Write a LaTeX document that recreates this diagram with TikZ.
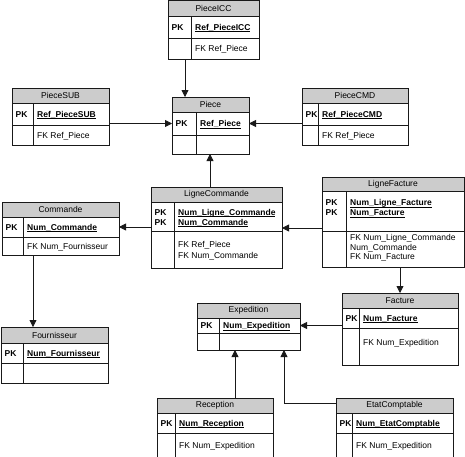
\documentclass[tikz,border=0pt]{standalone}
\usepackage{fontspec}
\setmainfont{Liberation Sans}
\usetikzlibrary{arrows.meta}
\definecolor{hdrgray}{RGB}{204,204,204}
\definecolor{linec}{RGB}{25,25,25}
\newcommand\ulbf[1]{\setbox0\hbox{\bfseries #1}\rlap{\rule[-1.6pt]{\wd0}{0.6pt}}\box0}
% name, x1, x2, divider, top, header bottom, pk bottom, bottom, title
\newcommand\ent[9]{%
  \node[inner sep=0pt, outer sep=0pt, minimum width={(#3-#2)*1pt}, minimum height={(#8-#5)*1pt}, anchor=north west] (#1) at (#2,#5) {};
  \node[hdr, minimum width={(#3-#2)*1pt}, minimum height={(#6-#5)*1pt}, anchor=north west] (#1-h) at (#2,#5) {#9};
  \node[cell, minimum width={(#4-#2)*1pt}, minimum height={(#7-#6)*1pt}, anchor=north west] (#1-pkl) at (#2,#6) {};
  \node[cell, minimum width={(#3-#4)*1pt}, minimum height={(#7-#6)*1pt}, anchor=north west] (#1-pk) at (#4,#6) {};
  \node[cell, minimum width={(#4-#2)*1pt}, minimum height={(#8-#7)*1pt}, anchor=north west] (#1-fkl) at (#2,#7) {};
  \node[cell, minimum width={(#3-#4)*1pt}, minimum height={(#8-#7)*1pt}, anchor=north west] (#1-fk) at (#4,#7) {};
}
\newcommand\pkrow[2]{%
  \node[txt, anchor=base west] (#1-pkt) at ([xshift=3.5pt,yshift=-3pt]#1-pkl.west) {\bfseries PK};
  \node[txt, anchor=base west] (#1-pka) at ([xshift=4pt,yshift=-3pt]#1-pk.west) {\ulbf{#2}};
}
\newcommand\fkrow[2]{%
  \node[txt, anchor=base west] (#1-fka) at ([xshift=4pt,yshift=-3pt]#1-fk.west) {#2};
}
\begin{document}
\begin{tikzpicture}[x=1pt,y=-1pt,
  box/.style={draw=linec, line width=0.8pt, inner sep=0pt, outer sep=0pt},
  hdr/.style={box, fill=hdrgray, font=\fontsize{8.5}{9.7}\selectfont},
  cell/.style={box, fill=white},
  txt/.style={inner sep=0pt, font=\fontsize{8.5}{9.7}\selectfont},
  conn/.style={draw=linec, line width=0.8pt, -{Triangle[length=7pt,width=7pt]}}]
\useasboundingbox (0,0) rectangle (465,456);

\ent{PieceICC}{168}{259}{191}{0.5}{16}{38}{59}{PieceICC}
\ent{Piece}{172}{249}{196}{97}{112}{135}{154}{Piece}
\ent{PieceSUB}{12}{109}{33}{88}{103}{125}{145}{PieceSUB}
\ent{PieceCMD}{302}{408}{318}{88}{103}{125}{145}{PieceCMD}
\ent{LigneCommande}{151}{282}{174}{187}{202}{231}{268}{LigneCommande}
\ent{Commande}{2}{119}{23}{202}{217}{237}{255}{Commande}
\ent{Fournisseur}{1}{108}{23}{327}{343}{363}{383}{Fournisseur}
\ent{LigneFacture}{322}{464}{346}{177}{191}{231}{267}{LigneFacture}
\ent{Facture}{342}{458}{359}{293}{308}{328}{365}{Facture}
\ent{Expedition}{197}{300}{219}{303}{318}{333}{350}{Expedition}
\ent{Reception}{157}{273}{175}{398}{413}{433}{458}{Reception}
\ent{EtatComptable}{336}{453}{352}{398}{413}{433}{458}{EtatComptable}

\pkrow{PieceICC}{Ref\_PieceICC}\fkrow{PieceICC}{FK Ref\_Piece}
\pkrow{Piece}{Ref\_Piece}
\pkrow{PieceSUB}{Ref\_PieceSUB}\fkrow{PieceSUB}{FK Ref\_Piece}
\pkrow{PieceCMD}{Ref\_PieceCMD}\fkrow{PieceCMD}{FK Ref\_Piece}
\pkrow{Commande}{Num\_Commande}\fkrow{Commande}{FK Num\_Fournisseur}
\pkrow{Fournisseur}{Num\_Fournisseur}
\pkrow{Expedition}{Num\_Expedition}
\pkrow{Reception}{Num\_Reception}\fkrow{Reception}{FK Num\_Expedition}
\pkrow{EtatComptable}{Num\_EtatComptable}\fkrow{EtatComptable}{FK Num\_Expedition}
\pkrow{Facture}{Num\_Facture}
\node[txt, anchor=base west] (Facture-fka) at (363,345) {FK Num\_Expedition};

% LigneCommande
\node[txt, anchor=base west] (LC-p1) at (154.5,215) {\bfseries PK};
\node[txt, anchor=base west] (LC-p2) at (154.5,225) {\bfseries PK};
\node[txt, anchor=base west] (LC-a1) at (178,215) {\ulbf{Num\_Ligne\_Commande}};
\node[txt, anchor=base west] (LC-a2) at (178,225) {\ulbf{Num\_Commande}};
\node[txt, anchor=base west] (LC-f1) at (178,247) {FK Ref\_Piece};
\node[txt, anchor=base west] (LC-f2) at (178,258) {FK Num\_Commande};

% LigneFacture
\node[txt, anchor=base west] (LF-p1) at (325.5,205.5) {\bfseries PK};
\node[txt, anchor=base west] (LF-p2) at (325.5,215.5) {\bfseries PK};
\node[txt, anchor=base west] (LF-a1) at (350,205.5) {\ulbf{Num\_Ligne\_Facture}};
\node[txt, anchor=base west] (LF-a2) at (350,215.5) {\ulbf{Num\_Facture}};
\node[txt, anchor=base west] (LF-f1) at (350,240) {FK Num\_Ligne\_Commande};
\node[txt, anchor=base west] (LF-f2) at (350,250) {Num\_Commande};
\node[txt, anchor=base west] (LF-f3) at (350,259.5) {FK Num\_Facture};

% connectors
\draw[conn] ([xshift=-28.5pt]PieceICC.south) -- ([xshift=-28.5pt]PieceICC.south |- Piece.north);
\draw[conn] (PieceSUB.east |- Piece-pkl.west) -- (Piece-pkl.west);
\draw[conn] (PieceCMD.west |- Piece-pk.east) -- (Piece-pk.east);
\draw[conn] ([xshift=-6.5pt]LigneCommande.north) -- ([xshift=-6.5pt]LigneCommande.north |- Piece.south);
\draw[conn] (LigneCommande.west |- Commande-pk.east) -- (Commande-pk.east);
\draw[conn] ([yshift=-6pt]LigneFacture.west) -- ([yshift=-6pt]LigneFacture.west -| LigneCommande.east);
\draw[conn] ([xshift=-27.5pt]Commande.south) -- ([xshift=-27.5pt]Commande.south |- Fournisseur.north);
\draw[conn] (Facture.north |- LigneFacture.south) -- (Facture.north);
\draw[conn] (Facture.west |- Expedition-pk.east) -- (Expedition-pk.east);
\draw[conn] ([xshift=20pt]Reception.north) -- ([xshift=20pt]Reception.north |- Expedition.south);
\draw[conn] ([yshift=2pt]EtatComptable-h.west) -| ([xshift=35.5pt]Expedition.south);
\end{tikzpicture}
\end{document}
